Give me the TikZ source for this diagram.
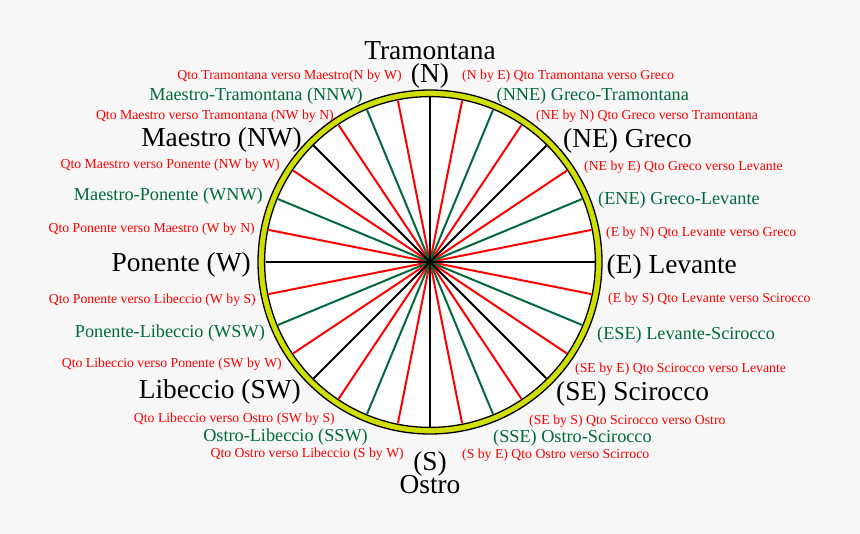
\documentclass[tikz,border=0pt]{standalone}
\usepackage{fontspec}
\setmainfont{Liberation Serif}
\definecolor{bgc}{HTML}{F7F7F7}
\definecolor{ringc}{HTML}{CFE000}
\definecolor{grn}{HTML}{006A3C}
\definecolor{rd}{HTML}{FF0000}
\begin{document}
\begin{tikzpicture}[x=1bp,y=-1bp,
  big/.style={inner sep=0pt,text=black,font=\fontsize{27.5}{30}\selectfont},
  mid/.style={inner sep=0pt,text=grn,font=\fontsize{18.3}{20}\selectfont},
  sml/.style={inner sep=0pt,text=rd,font=\fontsize{13.8}{16}\selectfont},
  spoke/.style={line width=2bp}]
\fill[bgc] (0,0) rectangle (860,534);
\useasboundingbox (0,0) rectangle (860,534);
\coordinate (c) at (430,262);
% disc and ring
\fill[white] (c) circle (166);
\draw[ringc,line width=6.5bp] (c) circle (168.7);
\draw[black,line width=1.3bp] (c) circle (172);
\draw[black,line width=1.3bp] (c) circle (165.4);
% spokes
\foreach \i in {1,3,...,31} \draw[spoke,rd] (c) -- ++(\i*11.25:164.5);
\foreach \i in {2,6,...,30} \draw[spoke,grn] (c) -- ++(\i*11.25:164.5);
\foreach \i in {0,4,...,28} \draw[spoke,black] (c) -- ++(\i*11.25:164.5);
% cardinal / intercardinal
\node[big,anchor=base] (tram) at (430,60) {Tramontana};
\node[big] (n) at (430,76) {(N)};
\node[big] (s) at (430,464) {(S)};
\node[big,anchor=base] (ostro) at (430,493) {Ostro};
\node[big,anchor=east] (w) at (251,265) {Ponente (W)};
\node[big,anchor=west] (e) at (606.5,267) {(E) Levante};
\node[big,anchor=east] (nw) at (302,140) {Maestro (NW)};
\node[big,anchor=west] (ne) at (563,141) {(NE) Greco};
\node[big,anchor=east] (sw) at (301,392) {Libeccio (SW)};
\node[big,anchor=west] (se) at (556,394) {(SE) Scirocco};
% half winds
\node[mid,anchor=east] (nnw) at (363,96) {Maestro-Tramontana (NNW)};
\node[mid,anchor=west] (nne) at (496.5,96) {(NNE) Greco-Tramontana};
\node[mid,anchor=east] (wnw) at (263,196) {Maestro-Ponente (WNW)};
\node[mid,anchor=west] (ene) at (598,200) {(ENE) Greco-Levante};
\node[mid,anchor=east] (wsw) at (265,333) {Ponente-Libeccio (WSW)};
\node[mid,anchor=west] (ese) at (597,335) {(ESE) Levante-Scirocco};
\node[mid,anchor=east] (ssw) at (368,437) {Ostro-Libeccio (SSW)};
\node[mid,anchor=west] (sse) at (493,438) {(SSE) Ostro-Scirocco};
% quarter winds
\node[sml,anchor=east] (nbw) at (402,76) {Qto Tramontana verso Maestro(N by W)};
\node[sml,anchor=west] (nbe) at (462,76) {(N by E) Qto Tramontana verso Greco};
\node[sml,anchor=east] (nwbn) at (334,116) {Qto Maestro verso Tramontana (NW by N)};
\node[sml,anchor=west] (nebn) at (536,116) {(NE by N) Qto Greco verso Tramontana};
\node[sml,anchor=east] (nwbw) at (280,165) {Qto Maestro verso Ponente (NW by W)};
\node[sml,anchor=west] (nebe) at (584,167) {(NE by E) Qto Greco verso Levante};
\node[sml,anchor=east] (wbn) at (255,229) {Qto Ponente verso Maestro (W by N)};
\node[sml,anchor=west] (ebn) at (606,233) {(E by N) Qto Levante verso Greco};
\node[sml,anchor=east] (wbs) at (256,300) {Qto Ponente verso Libeccio (W by S)};
\node[sml,anchor=west] (ebs) at (608,299) {(E by S) Qto Levante verso Scirocco};
\node[sml,anchor=east] (swbw) at (282,364) {Qto Libeccio verso Ponente (SW by W)};
\node[sml,anchor=west] (sebe) at (575,369) {(SE by E) Qto Scirocco verso Levante};
\node[sml,anchor=east] (swbs) at (335,419) {Qto Libeccio verso Ostro (SW by S)};
\node[sml,anchor=west] (sebs) at (529,421) {(SE by S) Qto Scirocco verso Ostro};
\node[sml,anchor=east] (sbw) at (404,454) {Qto Ostro verso Libeccio (S by W)};
\node[sml,anchor=west] (sbe) at (462,455) {(S by E) Qto Ostro verso Scirroco};
\end{tikzpicture}
\end{document}
